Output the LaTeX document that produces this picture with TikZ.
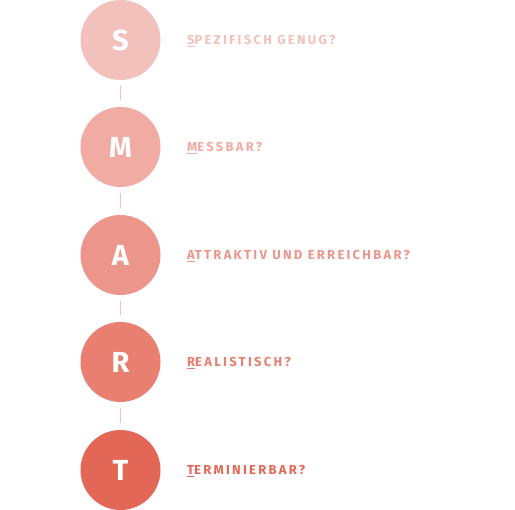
\documentclass[tikz,border=0pt]{standalone}
\usepackage{fontspec}
\setmainfont{Fira Sans}
\newfontfamily\labelfont[LetterSpace=17.5]{Fira Sans Bold}
\newfontfamily\circfont{Fira Sans Bold}
\definecolor{cS}{HTML}{F3C1BC}
\definecolor{cM}{HTML}{F0ABA3}
\definecolor{cA}{HTML}{EC958A}
\definecolor{cR}{HTML}{E87F70}
\definecolor{cT}{HTML}{E36757}
\begin{document}
\begin{tikzpicture}[x=1pt,y=-1pt,
  letterbox/.style={circle,fill=#1,minimum size=80pt,inner sep=0pt,text=white,font=\circfont\fontsize{29}{29}\selectfont},
  label/.style={anchor=west,text=#1,font=\labelfont\fontsize{13}{13}\selectfont,inner sep=0pt},
  link/.style={draw=cS,line width=1.4pt}]
\useasboundingbox (0,0) rectangle (515,510);
\foreach \n/\y/\c/\f/\r in {S/40/cS/S/PEZIFISCH GENUG?,M/147/cM/M/ESSBAR?,A/255/cA/A/TTRAKTIV UND ERREICHBAR?,R/362/cR/R/EALISTISCH?,T/470/cT/T/ERMINIERBAR?}{
  \node[letterbox=\c] (\n) at (120.5,\y) {\n};
  \node[label=\c] (l\n) at (187,\y+1) {\underline{\f}\r};
}
\foreach \a/\b in {S/M,M/A,A/R,R/T}{
  \draw[link] ([yshift=-6pt]\a.south) -- ([yshift=7pt]\b.north);
}
\end{tikzpicture}
\end{document}
